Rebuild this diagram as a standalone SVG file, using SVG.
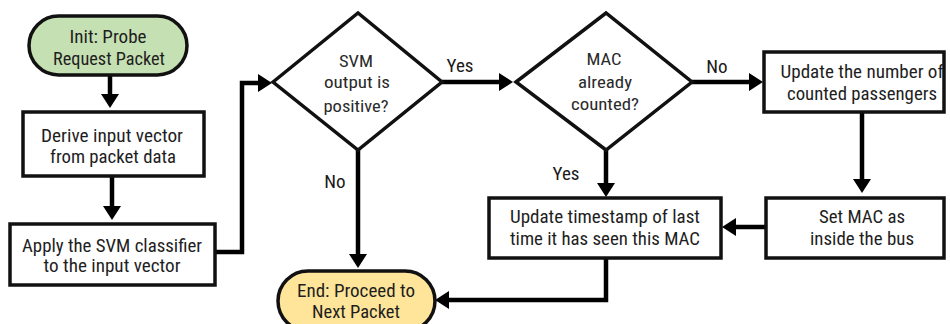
<svg xmlns="http://www.w3.org/2000/svg" width="950" height="324" viewBox="0 0 950 324">
<style>
.box{fill:#fff;stroke:#111;stroke-width:3.5}
.pill-g{fill:#c5e0b3;stroke:#111;stroke-width:3.5}
.pill-y{fill:#ffe59a;stroke:#111;stroke-width:3.5}
.dia{fill:#fff;stroke:#111;stroke-width:3.5;stroke-linejoin:miter}
.t{font-family:"Roboto Condensed","Liberation Sans Narrow",Roboto,"Liberation Sans",sans-serif;font-size:18px;font-weight:400;fill:#1e1e1e;text-anchor:middle}
.d{font-family:"Roboto Condensed","Liberation Sans Narrow",Roboto,"Liberation Sans",sans-serif;font-size:16px;fill:#2a2a2a;text-anchor:middle}
.l{font-family:"Roboto Condensed","Liberation Sans Narrow",Roboto,"Liberation Sans",sans-serif;font-size:19px;fill:#1a1a1a;text-anchor:middle}
.c{fill:none;stroke:#000;stroke-width:4.5;stroke-linejoin:miter}
</style>
<defs>
<marker id="ah" markerUnits="userSpaceOnUse" markerWidth="14" markerHeight="18" viewBox="0 0 14 18" refX="3" refY="9" orient="auto">
<path d="M0,0 L14,9 L0,18 z" fill="#000"/>
</marker>
</defs>

<g id="connectors">
<path class="c" d="M110,75 V97" marker-end="url(#ah)"/>
<path class="c" d="M112,175 V209" marker-end="url(#ah)"/>
<path class="c" d="M215,252 H242 V83 H261" marker-end="url(#ah)"/>
<path class="c" d="M442,82 H502" marker-end="url(#ah)"/>
<path class="c" d="M358,150 V257" marker-end="url(#ah)"/>
<path class="c" d="M692,82 H752" marker-end="url(#ah)"/>
<path class="c" d="M862,112 V182" marker-end="url(#ah)"/>
<path class="c" d="M606,150 V186" marker-end="url(#ah)"/>
<path class="c" d="M766,227 H733" marker-end="url(#ah)"/>
<path class="c" d="M606,258 V300 H446" marker-end="url(#ah)"/>
<text class="l" x="460" y="72">Yes</text>
<text class="l" x="335" y="188">No</text>
<text class="l" x="717" y="73">No</text>
<text class="l" x="566" y="180">Yes</text>
</g>

<g id="init">
<rect class="pill-g" x="29" y="16" width="158" height="59" rx="29.5"/>
<text class="t" x="108" y="43" textLength="77" lengthAdjust="spacingAndGlyphs">Init: Probe</text>
<text class="t" x="109" y="65" textLength="112" lengthAdjust="spacingAndGlyphs">Request Packet</text>
</g>

<g id="derive">
<rect class="box" x="23" y="112" width="181" height="64"/>
<text class="t" x="112" y="142" textLength="142" lengthAdjust="spacingAndGlyphs">Derive input vector</text>
<text class="t" x="113" y="163" textLength="126" lengthAdjust="spacingAndGlyphs">from packet data</text>
</g>

<g id="apply">
<rect class="box" x="10" y="224" width="205" height="61"/>
<text class="t" x="112" y="252" textLength="180" lengthAdjust="spacingAndGlyphs">Apply the SVM classifier</text>
<text class="t" x="112" y="272" textLength="137" lengthAdjust="spacingAndGlyphs">to the input vector</text>
</g>

<g id="svm">
<polygon class="dia" points="273,82 358,13 442,82 358,150"/>
<text class="d" x="356" y="67" textLength="34" lengthAdjust="spacingAndGlyphs">SVM</text>
<text class="d" x="357" y="88" textLength="66" lengthAdjust="spacingAndGlyphs">output is</text>
<text class="d" x="356" y="112" textLength="65" lengthAdjust="spacingAndGlyphs">positive?</text>
</g>

<g id="mac">
<polygon class="dia" points="516,82 606,13 692,82 606,150"/>
<text class="d" x="604" y="65" textLength="35" lengthAdjust="spacingAndGlyphs">MAC</text>
<text class="d" x="605" y="88" textLength="54" lengthAdjust="spacingAndGlyphs">already</text>
<text class="d" x="605" y="110" textLength="68" lengthAdjust="spacingAndGlyphs">counted?</text>
</g>

<g id="count">
<rect class="box" x="764" y="52" width="180" height="60"/>
<text class="t" x="862" y="78" textLength="163" lengthAdjust="spacingAndGlyphs">Update the number of</text>
<text class="t" x="862" y="100" textLength="150" lengthAdjust="spacingAndGlyphs">counted passengers</text>
</g>

<g id="setmac">
<rect class="box" x="766" y="198" width="178" height="60"/>
<text class="t" x="862" y="223" textLength="86" lengthAdjust="spacingAndGlyphs">Set MAC as</text>
<text class="t" x="862" y="245" textLength="104" lengthAdjust="spacingAndGlyphs">inside the bus</text>
</g>

<g id="timestamp">
<rect class="box" x="489" y="198" width="232" height="60"/>
<text class="t" x="605" y="223" textLength="190" lengthAdjust="spacingAndGlyphs">Update timestamp of last</text>
<text class="t" x="605" y="245" textLength="190" lengthAdjust="spacingAndGlyphs">time it has seen this MAC</text>
</g>

<g id="end">
<rect class="pill-y" x="278" y="271" width="157" height="60" rx="30"/>
<text class="t" x="356" y="297" textLength="118" lengthAdjust="spacingAndGlyphs">End: Proceed to</text>
<text class="t" x="356" y="318" textLength="88" lengthAdjust="spacingAndGlyphs">Next Packet</text>
</g>
</svg>
